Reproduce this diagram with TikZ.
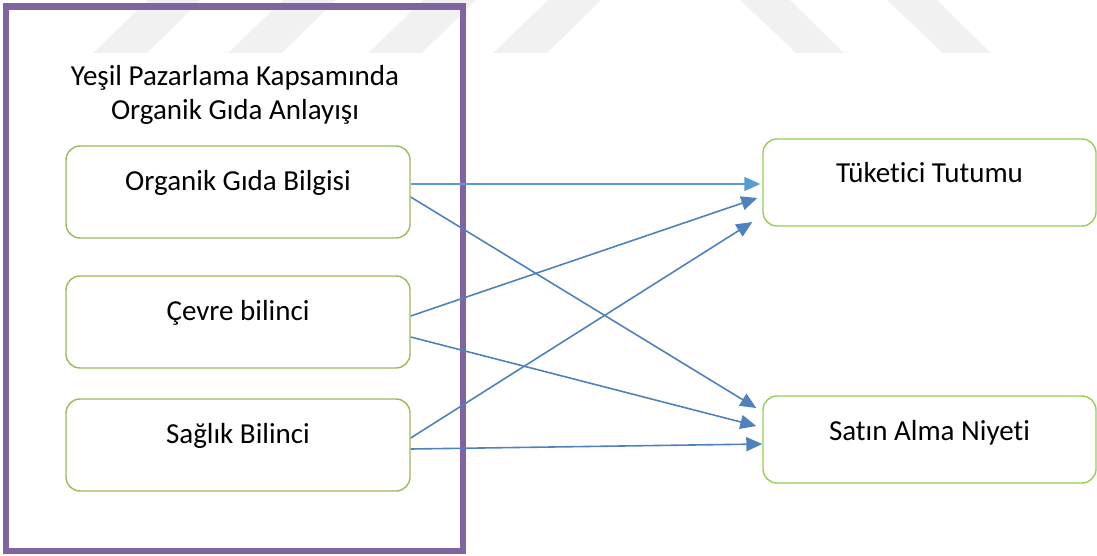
\documentclass[tikz,border=0pt]{standalone}
\usepackage{fontspec}
\setmainfont{Carlito}[Ligatures=NoCommon]
\usepackage{tikz}
\usetikzlibrary{arrows.meta,positioning,calc}
\definecolor{ogPurple}{RGB}{128,100,162}
\definecolor{ogOlive} {RGB}{155,187, 89}
\definecolor{ogLime}  {RGB}{146,208, 80}
\definecolor{ogBlue}  {RGB}{ 79,129,189}
\definecolor{ogSky}   {RGB}{ 91,155,213}
\definecolor{ogMark}  {RGB}{241,241,241}

\begin{document}
\begin{tikzpicture}[x=1pt,y=-1pt,
    kutu/.style={draw,rounded corners=14pt,line width=1.4pt,inner sep=0pt,
      text height=44pt,anchor=base,font=\fontsize{29}{34}\selectfont},
    solkutu/.style={kutu,ogOlive,text=black,minimum width=344pt,text depth=48pt},
    sagkutu/.style={kutu,ogLime,text=black,minimum width=333pt,text depth=43pt},
    ok/.style={-{Triangle[length=16pt,width=14pt]},ogBlue,line width=1.6pt}]
        \useasboundingbox (0,0) rectangle (1097,556);
        % Filigran
        \foreach \xa in {93,228,368,493}
          \fill[ogMark] (\xa,53)--(\xa+54,53)--(\xa+108,0)--(\xa+55,0)--cycle;
        \foreach \xa in {740,887}
          \fill[ogMark] (\xa,0)--(\xa+50,0)--(\xa+104,53)--(\xa+56,53)--cycle;
        % Cerceve
        \draw[ogPurple,line width=6.5pt] (6,6.5) rectangle (463,551);
        % Baslik
        \node[font=\fontsize{29}{34}\selectfont,align=center,anchor=base] (baslik)
          at (235,120) {Yeşil Pazarlama Kapsamında\\Organik Gıda Anlayışı};
        % Kutular
        \node[solkutu] (ogb) at (238,190) {Organik Gıda Bilgisi};
        \node[solkutu] (cb)  at (238,320) {Çevre bilinci};
        \node[solkutu] (sb)  at (238,443) {Sağlık Bilinci};
        \node[sagkutu] (tt)  at (929.5,183) {Tüketici Tutumu};
        \node[sagkutu] (sam) at (929.5,440) {Satın Alma Niyeti};
        % Oklar
        \draw[ok,ogSky] ($(ogb.east)+(0,-8)$) -- ($(tt.west)+(-2,1.5)$);
        \draw[ok] ($(ogb.east)+(0,5)$)  -- ($(sam.west)+(-6,-31.5)$);
        \draw[ok] ($(cb.east)+(0,-6)$)  -- ($(tt.west)+(-5,15.5)$);
        \draw[ok] ($(cb.east)+(0,15)$)  -- ($(sam.west)+(-6,-13.5)$);
        \draw[ok] ($(sb.east)+(0,-7)$)  -- ($(tt.west)+(-10,39.5)$);
        \draw[ok] ($(sb.east)+(0,4)$)   -- ($(sam.west)+(0,4.5)$);
      \end{tikzpicture}
\end{document}
